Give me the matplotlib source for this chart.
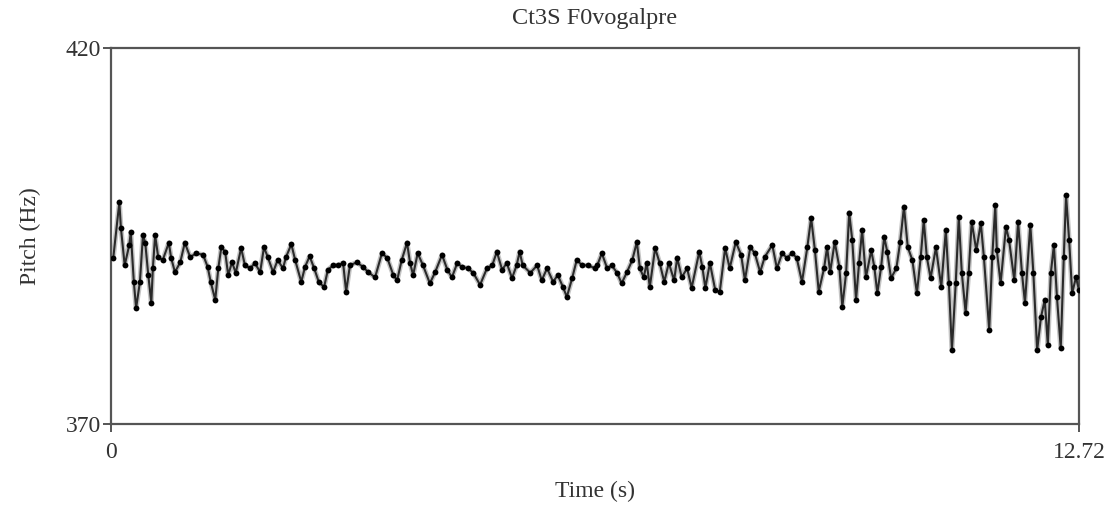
import numpy as np
import matplotlib
matplotlib.use("Agg")
import matplotlib.pyplot as plt

plt.rcParams['font.family'] = ['Liberation Serif', 'DejaVu Serif']

# pitch track (time in s, F0 in Hz)
time_s = [
    0.03, 0.11, 0.13, 0.18, 0.24, 0.26, 0.30, 0.33, 0.38, 0.42, 0.45, 0.49, 0.53, 0.55, 0.58,
    0.62, 0.68, 0.76, 0.79, 0.84, 0.91, 0.97, 1.04, 1.12, 1.21, 1.27, 1.31, 1.37, 1.41, 1.45,
    1.50, 1.54, 1.59, 1.64, 1.71, 1.76, 1.83, 1.89, 1.96, 2.01, 2.06, 2.13, 2.19, 2.26, 2.30,
    2.37, 2.42, 2.50, 2.55, 2.61, 2.67, 2.73, 2.80, 2.85, 2.92, 2.98, 3.05, 3.09, 3.14,
    3.23, 3.31, 3.38, 3.47, 3.56, 3.63, 3.71, 3.76, 3.82, 3.89, 3.93, 3.97, 4.03, 4.10,
    4.19, 4.26, 4.35, 4.42, 4.48, 4.55, 4.61, 4.69, 4.76, 4.85, 4.94, 5.01, 5.07, 5.14,
    5.20, 5.27, 5.33, 5.37, 5.41, 5.51, 5.60, 5.66, 5.73, 5.81, 5.87, 5.94, 5.99, 6.06,
    6.12, 6.19, 6.27, 6.36, 6.39, 6.45, 6.52, 6.58, 6.65, 6.71, 6.78, 6.85, 6.91, 6.95,
    7.00, 7.04, 7.08, 7.15, 7.21, 7.27, 7.33, 7.40, 7.44, 7.50, 7.57, 7.63, 7.73, 7.77,
    7.81, 7.87, 7.94, 8.00, 8.07, 8.13, 8.21, 8.28, 8.33, 8.40, 8.46, 8.53, 8.59, 8.69,
    8.75, 8.82, 8.88, 8.95, 9.01, 9.08, 9.15, 9.20, 9.25, 9.30, 9.37, 9.41, 9.45, 9.51,
    9.57, 9.61, 9.66, 9.70, 9.74, 9.79, 9.83, 9.87, 9.92, 9.99, 10.03, 10.07, 10.12, 10.16,
    10.20, 10.25, 10.32, 10.37, 10.42, 10.47, 10.53, 10.59, 10.64, 10.68, 10.72, 10.77,
    10.84, 10.91, 10.97, 11.01, 11.05, 11.10, 11.14, 11.18, 11.23, 11.27, 11.31, 11.37,
    11.43, 11.47, 11.54, 11.58, 11.62, 11.64, 11.69, 11.76, 11.80, 11.87, 11.92, 11.97,
    12.01, 12.08, 12.12, 12.17, 12.22, 12.27, 12.31, 12.35, 12.39, 12.43, 12.48, 12.52,
    12.55, 12.59, 12.63, 12.68, 12.72,
]
pitch_hz = [
    392.1, 399.5, 396.1, 391.1, 393.8, 395.5, 388.9, 385.4, 388.9, 395.1, 394.1, 389.8, 386.1, 390.7, 395.1,
    392.2, 391.8, 394.1, 392.1, 390.2, 391.5, 394.1, 392.2, 392.7, 392.5, 390.9, 388.9, 386.5, 390.7, 393.5,
    392.9, 389.8, 391.5, 390.1, 393.4, 391.1, 390.7, 391.4, 390.2, 393.5, 392.2, 390.2, 391.8, 390.7, 392.2,
    393.9, 391.8, 388.9, 390.9, 392.3, 390.7, 388.9, 388.2, 390.5, 391.1, 391.1, 391.4, 387.6, 391.1,
    391.5, 390.9, 390.2, 389.5, 392.7, 392.1, 389.8, 389.1, 391.8, 394.1, 391.4, 389.8, 392.7, 391.1,
    388.7, 390.2, 392.5, 390.5, 389.5, 391.4, 390.9, 390.7, 390.1, 388.5, 390.7, 391.1, 392.9, 390.5,
    391.4, 389.4, 391.1, 392.9, 391.1, 390.1, 391.1, 389.1, 390.7, 388.9, 389.8, 388.2, 386.9, 389.4,
    391.8, 391.1, 391.1, 390.7, 391.1, 392.7, 390.7, 391.1, 390.1, 388.7, 390.2, 391.8, 394.2, 390.7,
    389.5, 391.4, 388.2, 393.4, 391.4, 388.9, 391.4, 389.1, 392.1, 389.5, 390.7, 388.1, 392.9, 390.9,
    388.1, 391.4, 387.8, 387.6, 393.4, 390.7, 394.2, 392.5, 389.1, 393.5, 392.7, 390.2, 392.2, 393.8,
    390.7, 392.7, 392.1, 392.7, 392.1, 388.9, 393.5, 397.4, 393.1, 387.6, 390.7, 393.5, 390.2, 394.2,
    390.9, 385.6, 390.1, 398.1, 394.5, 386.5, 391.4, 395.8, 389.5, 393.1, 390.9, 387.4, 390.9,
    394.9, 392.9, 389.4, 390.7, 394.2, 398.9, 393.5, 391.8, 387.4, 392.2, 397.1, 392.2, 389.4,
    393.5, 388.2, 395.8, 388.7, 379.8, 388.7, 397.5, 390.1, 384.8, 390.1, 396.9, 393.1,
    396.7, 392.2, 382.5, 392.2, 399.1, 393.1, 388.7, 396.2, 394.5, 389.1, 396.9, 390.1,
    386.1, 396.5, 390.1, 379.8, 384.2, 386.5, 380.5, 390.1, 393.8, 386.9, 380.1, 392.2,
    400.4, 394.5, 387.4, 389.5, 387.8,
]

fig = plt.figure(figsize=(11.2, 5.05), dpi=100)
ax = fig.add_axes([0.0991, 0.1604, 0.8643, 0.7446])

# wide light stroke, darker core line, sample dots on top
ax.plot(time_s, pitch_hz, color='#c4c4c4', linewidth=3.6, zorder=2,
        solid_joinstyle='round')
ax.plot(time_s, pitch_hz, color='#2a2a2a', linewidth=1.5, zorder=3,
        solid_joinstyle='round')
ax.plot(time_s, pitch_hz, linestyle='none', marker='o', markersize=4.2,
        color='black', markeredgewidth=0, zorder=4)

ax.set_xlim(0, 12.72)
ax.set_ylim(370, 420)
ax.set_xticks([0, 12.72])
ax.set_xticklabels(['0', '12.72'])
ax.set_yticks([370, 420])
ax.set_yticklabels(['370', '420'])

txt = '#333333'
for s in ax.spines.values():
    s.set_color('#555555')
    s.set_linewidth(1.6)
ax.tick_params(axis='both', direction='out', length=6, width=1.4,
               color='#555555', labelcolor=txt, labelsize=17)
ax.tick_params(axis='x', pad=7)
ax.tick_params(axis='y', pad=1)

ax.text(0.5, 1.078, 'Ct3S F0vogalpre', transform=ax.transAxes,
        ha='center', va='center', fontsize=17.5, color=txt)
ax.set_xlabel('Time (s)', fontsize=17, color=txt)
ax.xaxis.set_label_coords(0.5, -0.152)
ax.set_ylabel('Pitch (Hz)', fontsize=17, color=txt)
ax.yaxis.set_label_coords(-0.072, 0.5)

fig.savefig('out.png', dpi=100, facecolor='white')
